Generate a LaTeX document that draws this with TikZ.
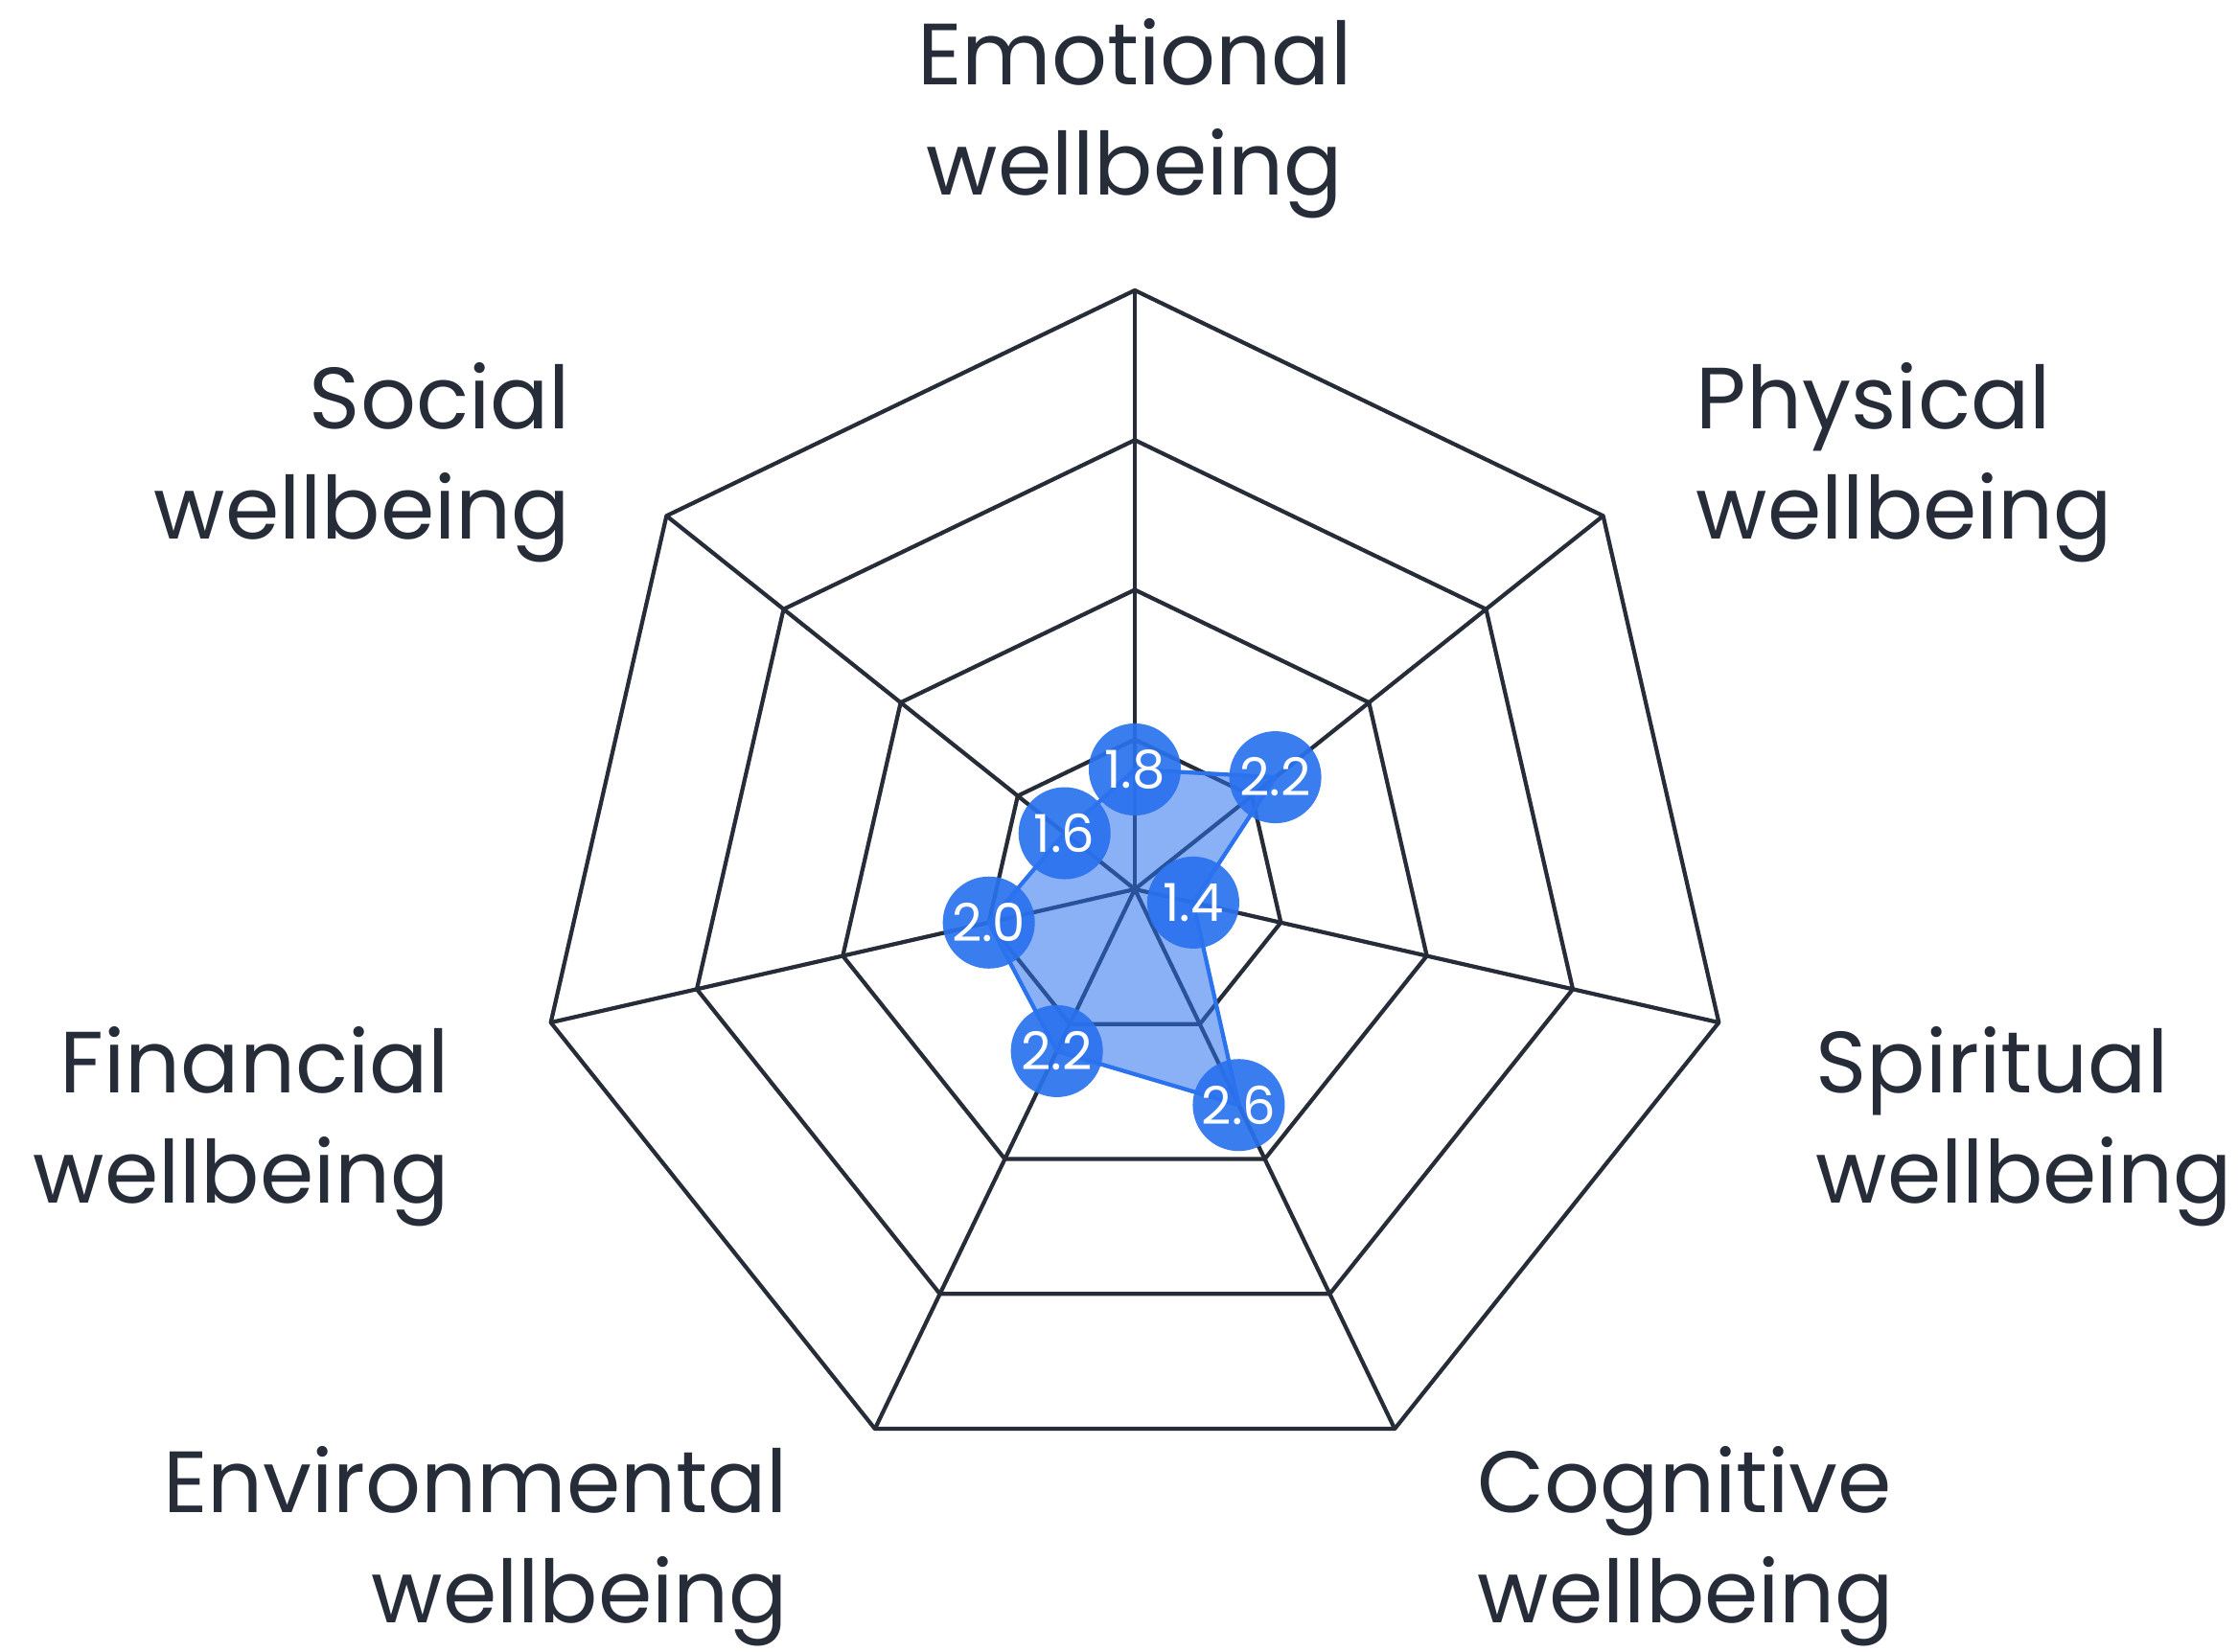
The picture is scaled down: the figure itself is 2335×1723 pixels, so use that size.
\documentclass[tikz,border=0pt]{standalone}
\usepackage{fontspec}
\setmainfont{Poppins}
\usepackage{tikz}
\usetikzlibrary{positioning}
\definecolor{gridline}{HTML}{262C38}
\definecolor{dotblue}{HTML}{2A72EE}

\begin{document}
\begin{tikzpicture}[x=0.01cm,y=0.01cm,
    grid/.style={draw=gridline, line width=1.2pt, line join=round},
    axislabel/.style={font=\fontsize{25.8}{32.7}\selectfont, text=gridline, inner sep=0pt},
    valdot/.style={circle, fill=dotblue, fill opacity=0.92, text opacity=1, text=white,
        minimum size=0.96cm, inner sep=0pt, font=\fontsize{15.5}{15.5}\selectfont}]
    \useasboundingbox[fill=white] (0,0) rectangle (2335,1723);
    \begin{scope}[shift={(1184,795)}]
        \coordinate (c) at (0,0);
        % rings and spokes
        \foreach \k in {1,...,4}
            \draw[grid] (90:\k*156.25) \foreach \j in {1,...,6} { -- ({90-\j*360/7}:\k*156.25) } -- cycle;
        \foreach \j in {0,...,6}
            \draw[grid] (c) -- ({90-\j*360/7}:625);
        % data points, r = 156.25*(v-1)
        \coordinate (pEmo) at (90:125);
        \coordinate (pPhy) at ({90-360/7}:187.5);
        \coordinate (pSpi) at ({90-2*360/7}:62.5);
        \coordinate (pCog) at ({90-3*360/7}:250);
        \coordinate (pEnv) at ({90-4*360/7}:187.5);
        \coordinate (pFin) at ({90-5*360/7}:156.25);
        \coordinate (pSoc) at ({90-6*360/7}:93.75);
        \draw[dotblue, line width=1.2pt, line join=round, fill=dotblue, fill opacity=0.55]
            (pEmo) -- (pPhy) -- (pSpi) -- (pCog) -- (pEnv) -- (pFin) -- (pSoc) -- cycle;
        \node[valdot] (vEmo) at (pEmo) {1.8};
        \node[valdot] (vPhy) at (pPhy) {2.2};
        \node[valdot] (vSpi) at (pSpi) {1.4};
        \node[valdot] (vCog) at (pCog) {2.6};
        \node[valdot] (vEnv) at (pEnv) {2.2};
        \node[valdot] (vFin) at (pFin) {2.0};
        \node[valdot] (vSoc) at (pSoc) {1.6};
    \end{scope}
    % axis labels (base = baseline of the last line)
    \node[axislabel, anchor=base, align=center] (lEmo) at (1184,1519) {Emotional\\wellbeing};
    \node[axislabel, anchor=base west, align=left] (lPhy) at (1769,1160) {Physical\\wellbeing};
    \node[axislabel, anchor=base west, align=left] (lSpi) at (1894,468) {Spiritual\\wellbeing};
    \node[axislabel, anchor=base west, align=left] (lCog) at (1541,30) {Cognitive\\wellbeing};
    \node[axislabel, anchor=base east, align=right] (lEnv) at (823,30) {Environmental\\wellbeing};
    \node[axislabel, anchor=base east, align=right] (lFin) at (470,468) {Financial\\wellbeing};
    \node[axislabel, anchor=base east, align=right] (lSoc) at (596,1160) {Social\\wellbeing};
\end{tikzpicture}
\end{document}
